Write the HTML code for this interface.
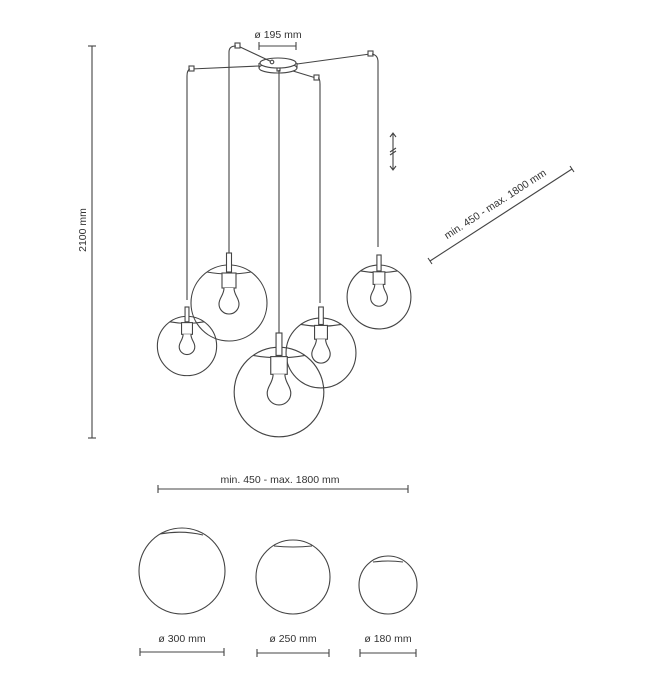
<!DOCTYPE html>
<html><head><meta charset="utf-8"><style>
html,body{margin:0;padding:0;background:#fff;}
svg{display:block;}
text{font-family:"Liberation Sans",sans-serif;fill:#333;font-size:10.5px;}
</style></head><body>
<svg width="650" height="677" viewBox="0 0 650 677" xmlns="http://www.w3.org/2000/svg">
<defs>
<g id="lamp">
<circle cx="0" cy="0" r="38" fill="none"/>
<path d="M-22,-31 Q0,-27 22,-31" fill="none"/>
<rect x="-2.5" y="-50" width="5" height="19" fill="#fff"/>
<rect x="-7" y="-30" width="14" height="15" fill="#fff"/>
<path d="M-5,-15 C-5,-8 -10,-5 -10,1 A10,10 0 0 0 10,1 C10,-5 5,-8 5,-15" fill="#fff"/>
</g>
</defs>
<g stroke="#444" stroke-width="1.1" fill="none">
<!-- canopy -->
<ellipse cx="278" cy="68" rx="19" ry="5" fill="#fff"/>
<ellipse cx="278" cy="63" rx="18" ry="5" fill="#fff"/>
<line x1="259" y1="63" x2="259" y2="68"/><line x1="297" y1="63" x2="297" y2="68"/>
<!-- cords to anchors -->
<line x1="238" y1="46" x2="272" y2="62"/>
<line x1="191" y1="69" x2="259" y2="66"/>
<line x1="316" y1="78" x2="293" y2="71"/>
<line x1="370" y1="54" x2="297" y2="64"/>
<rect x="235" y="43" width="5" height="5" fill="#fff"/>
<rect x="189" y="66" width="5" height="5" fill="#fff"/>
<rect x="314" y="75" width="5" height="5" fill="#fff"/>
<rect x="368" y="51" width="5" height="5" fill="#fff"/>
<circle cx="272" cy="62" r="1.8" fill="#fff"/>
<rect x="277" y="68" width="3" height="3" fill="#fff"/>
<!-- vertical cords -->
<path d="M190,69 Q187,70 187,76 L187,300"/>
<path d="M236,46 Q229,46 229,52 L229,253"/>
<path d="M318,78 Q320,78 320,84 L320,303"/>
<path d="M372,54 Q378,55 378,62 L378,247"/>
<line x1="279" y1="70" x2="279" y2="335"/>
<!-- lamps -->
<use href="#lamp" transform="translate(229,303)"/>
<use href="#lamp" transform="translate(187,346) scale(0.78)" stroke-width="1.4"/>
<use href="#lamp" transform="translate(321,353) scale(0.92)" stroke-width="1.2"/>
<use href="#lamp" transform="translate(379,297) scale(0.84)" stroke-width="1.3"/>
<use href="#lamp" transform="translate(279,392) scale(1.18)" stroke-width="0.95"/>
<!-- height dim -->
<line x1="92" y1="46" x2="92" y2="438"/>
<line x1="88" y1="46" x2="96" y2="46"/><line x1="88" y1="438" x2="96" y2="438"/>
<!-- 195 dim -->
<line x1="259" y1="46" x2="296" y2="46"/>
<line x1="259" y1="42" x2="259" y2="50"/><line x1="296" y1="42" x2="296" y2="50"/>
<!-- diagonal -->
<line x1="430" y1="261" x2="572" y2="169"/>
<line x1="428" y1="258" x2="432" y2="264"/><line x1="570" y1="166" x2="574" y2="172"/>
<!-- small arrows -->
<line x1="393" y1="134" x2="393" y2="169"/>
<path d="M390,137 L393,133 L396,137 M390,166 L393,170 L396,166"/>
<path d="M390,152 L396,148 M390,155 L396,151"/>
<!-- horizontal dim -->
<line x1="158" y1="489" x2="408" y2="489"/>
<line x1="158" y1="485" x2="158" y2="493"/><line x1="408" y1="485" x2="408" y2="493"/>
<!-- globes -->
<circle cx="182" cy="571" r="43"/>
<path d="M160,534 Q182,530 203,535"/>
<circle cx="293" cy="577" r="37"/>
<path d="M274,546 Q293,548 312,546"/>
<circle cx="388" cy="585" r="29"/>
<path d="M373,562 Q388,560 403,562"/>
<line x1="140" y1="652" x2="224" y2="652"/>
<line x1="140" y1="648" x2="140" y2="656"/><line x1="224" y1="648" x2="224" y2="656"/>
<line x1="257" y1="653" x2="329" y2="653"/>
<line x1="257" y1="649" x2="257" y2="657"/><line x1="329" y1="649" x2="329" y2="657"/>
<line x1="360" y1="653" x2="416" y2="653"/>
<line x1="360" y1="649" x2="360" y2="657"/><line x1="416" y1="649" x2="416" y2="657"/>
</g>
<text x="278" y="38" text-anchor="middle">ø 195 mm</text>
<text x="86" y="230" text-anchor="middle" transform="rotate(-90 86 230)">2100 mm</text>
<text x="0" y="0" text-anchor="middle" transform="translate(497,207) rotate(-33)">min. 450 - max. 1800 mm</text>
<text x="280" y="483" text-anchor="middle">min. 450 - max. 1800 mm</text>
<text x="182" y="642" text-anchor="middle">ø 300 mm</text>
<text x="293" y="642" text-anchor="middle">ø 250 mm</text>
<text x="388" y="642" text-anchor="middle">ø 180 mm</text>
</svg>
</body></html>
